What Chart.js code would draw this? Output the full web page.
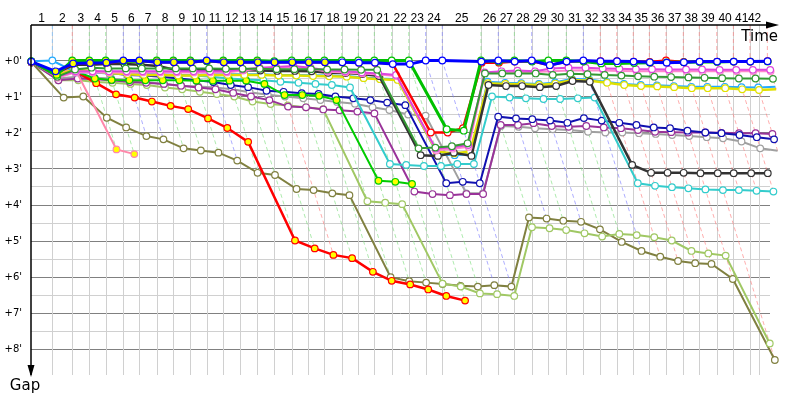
<!DOCTYPE html>
<html>
<head>
<meta charset="utf-8">
<script src="https://cdn.jsdelivr.net/npm/chart.js@4.4.1/dist/chart.umd.min.js"></script>
<style>
  html, body { margin: 0; padding: 0; background: #fff; }
  #wrap { width: 800px; height: 400px; }
</style>
</head>
<body>
<div id="wrap"><canvas id="gapChart"></canvas></div>
<script>
// leader time (minutes) when each lap ends, index = lap
const lapTimes = [0, 1.94, 3.75, 5.30, 6.79, 8.39, 9.85, 11.43, 12.94, 14.48, 15.97, 17.48, 19.00, 20.57,
  22.09, 23.70, 25.21, 26.67, 28.25, 29.75, 31.21, 32.79, 34.34, 35.88, 37.39, 40.91, 42.48, 43.94,
  45.52, 47.03, 48.66, 50.21, 51.75, 53.25, 54.75, 56.21, 57.73, 59.30, 60.75, 62.34, 63.85, 65.36, 66.94];
const gridEnd = 66.2;
const lapLabels = [];
for (let i = 1; i <= 42; i++) lapLabels.push(String(i));
// who led each lap (colour of the dashed lap line)
const lapLeader = ['lb', 'r', 'g', 'g', 'b', 'b', 'g', 'g', 'g', 'b', 'g', 'g', 'g', 'r',
  'g', 'g', 'g', 'g', 'g', 'g', 'g', 'g', 'b', 'b', 'g', 'b', 'g', 'b', 'g', 'g', 'b',
  'r', 'r', 'r', 'r', 'r', 'r', 'r', 'r', 'r', 'r', 'r'];
const gapTicks = ["+0'", "+1'", "+2'", "+3'", "+4'", "+5'", "+6'", "+7'", "+8'"];

// gap to leader (minutes) per lap, lap 0 = start
const olive = [0.05, 1.03, 1.0, 1.59, 1.86, 2.1, 2.19, 2.44, 2.5, 2.56, 2.78, 3.12, 3.18, 3.57, 3.6, 3.69, 3.74,
  6.02, 6.13, 6.17, 6.21, 6.26, 6.28, 6.24, 6.28, 4.36, 4.39, 4.45, 4.48, 4.69, 5.04, 5.29, 5.45, 5.57, 5.63, 5.65, 6.07, 8.32];
const lightOlive = [0.05, 0.55, 0.55, 0.6, 0.62, 0.65, 0.68, 0.75, 0.8, 0.87, 0.93, 1.0, 1.14, 1.21, 1.25, 1.3, 1.35,
  3.91, 3.95, 3.99, 6.2, 6.28, 6.47, 6.49, 6.54, 4.63, 4.66, 4.71, 4.8, 4.89, 4.82, 4.85, 4.91, 5.0, 5.29, 5.36, 5.42, 7.86];
const redRetired = [0.05, 0.4, 0.3, 0.63, 0.94, 1.03, 1.14, 1.26, 1.35, 1.61, 1.875, 2.26, 5.0, 5.22, 5.4, 5.49,
  5.87, 6.12, 6.22, 6.36, 6.54, 6.67];
const pinkRetired = [0.05, 0.35, 0.2, 2.47, 2.6];
const greenRetired = [0.05, 0.45, 0.3, 0.5, 0.54, 0.55, 0.55, 0.55, 0.55, 0.56, 0.56, 0.56, 0.56, 0.65, 0.96,
  0.96, 0.98, 1.1, 3.34, 3.37, 3.43];
const gray = [0.05, 0.5, 0.45, 0.48, 0.5, 0.55, 0.6, 0.65, 0.7, 0.72, 0.75, 0.8, 0.88, 0.95, 1.0, 1.05, 1.1, 1.15,
  1.2, 1.3, 1.375, 1.5, 1.53, 3.69, 3.69, 1.82, 1.84, 1.88, 1.91, 1.93, 1.98, 2.0, 2.0, 2.02, 2.04, 2.07, 2.1,
  2.13, 2.16, 2.25, 2.44, 2.51];
const purple = [0.05, 0.55, 0.5, 0.52, 0.55, 0.6, 0.62, 0.65, 0.7, 0.75, 0.8, 0.9, 1.0, 1.1, 1.28, 1.3, 1.36, 1.38,
  1.42, 1.47, 3.64, 3.71, 3.74, 3.71, 3.71, 1.79, 1.79, 1.74, 1.82, 1.84, 1.82, 1.86, 1.88, 1.93, 1.98, 1.99,
  2.0, 2.0, 2.01, 2.02, 2.02, 2.04];
const darkBlue = [0.05, 0.45, 0.3, 0.31, 0.35, 0.4, 0.42, 0.45, 0.5, 0.55, 0.6, 0.68, 0.74, 0.84, 0.87, 0.91, 0.93,
  1.0, 1.05, 1.1, 1.17, 1.24, 3.41, 3.37, 3.41, 1.56, 1.61, 1.63, 1.67, 1.73, 1.6, 1.67, 1.73, 1.79, 1.86, 1.88,
  1.95, 2.0, 2.02, 2.07, 2.13, 2.19];
const cyan = [0.04, 0.4, 0.3, 0.3, 0.33, 0.35, 0.35, 0.4, 0.42, 0.42, 0.45, 0.5, 0.53, 0.55, 0.59, 0.62, 0.65, 0.68,
  0.75, 2.875, 2.9, 2.93, 2.93, 2.875, 2.875, 1.0, 1.03, 1.05, 1.07, 1.07, 1.05, 1.03, 3.41, 3.48, 3.52, 3.55,
  3.58, 3.6, 3.6, 3.62, 3.64];
const black = [0.03, 0.35, 0.12, 0.12, 0.1, 0.1, 0.12, 0.15, 0.27, 0.27, 0.27, 0.27, 0.27, 0.28, 0.29, 0.29, 0.3,
  0.34, 0.35, 0.375, 0.43, 2.63, 2.65, 2.56, 2.65, 0.68, 0.71, 0.71, 0.74, 0.71, 0.57, 0.59, 2.9, 3.12, 3.12,
  3.12, 3.13, 3.13, 3.13, 3.13, 3.13];
const lightBlue = [0.02, 0, 0.33, 0.33, 0.36, 0.38, 0.38, 0.38, 0.4, 0.4, 0.38, 0.38, 0.38, 0.38, 0.4, 0.4, 0.41,
  0.42, 0.43, 0.47, 0.5, 0.52, 2.6, 2.63, 2.6, 0.59, 0.62, 0.63, 0.65, 0.61, 0.51, 0.53, 0.6, 0.65, 0.68, 0.69,
  0.71, 0.73, 0.73, 0.73, 0.74, 0.75, 0.73];
const yellow = [0.03, 0.4, 0.25, 0.3, 0.35, 0.38, 0.4, 0.4, 0.42, 0.42, 0.4, 0.4, 0.4, 0.4, 0.42, 0.42, 0.43, 0.44,
  0.45, 0.49, 0.52, 0.54, 2.53, 2.58, 2.53, 0.63, 0.65, 0.66, 0.68, 0.64, 0.54, 0.56, 0.62, 0.68, 0.71, 0.72,
  0.74, 0.77, 0.77, 0.77, 0.8, 0.82, 0.8];
const pink = [0.04, 0.48, 0.33, 0.33, 0.33, 0.33, 0.33, 0.33, 0.33, 0.33, 0.33, 0.33, 0.28, 0.23, 0.21, 0.18, 0.23,
  0.31, 0.33, 0.36, 0.39, 0.43, 2.5, 2.45, 2.4, 0.35, 0.33, 0.32, 0.32, 0.3, 0.28, 0.27, 0.28, 0.29, 0.3, 0.3,
  0.3, 0.3, 0.3, 0.3, 0.3, 0.3, 0.3];
const magenta = [0.04, 0.45, 0.3, 0.3, 0.3, 0.3, 0.3, 0.3, 0.3, 0.3, 0.3, 0.3, 0.25, 0.2, 0.18, 0.15, 0.2, 0.28,
  0.3, 0.33, 0.36, 0.4, 2.45, 2.41, 2.35, 0.33, 0.3, 0.28, 0.3, 0.22, 0.2, 0.2, 0.22, 0.23, 0.24, 0.24, 0.25,
  0.25, 0.25, 0.26, 0.26, 0.26, 0.26];
const darkGreen = [0.03, 0.45, 0.25, 0.2, 0.22, 0.22, 0.22, 0.22, 0.22, 0.22, 0.22, 0.23, 0.23, 0.23, 0.24, 0.24,
  0.24, 0.25, 0.25, 0.26, 0.26, 2.44, 2.42, 2.38, 2.3, 0.36, 0.36, 0.36, 0.36, 0.4, 0.37, 0.38, 0.4, 0.42, 0.44,
  0.45, 0.46, 0.47, 0.48, 0.49, 0.5, 0.5, 0.51];
const red = [0.03, 0.35, 0.08, 0.07, 0.06, 0.02, 0.02, 0.05, 0.05, 0.05, 0.02, 0.05, 0.05, 0.05, 0.05, 0.05, 0.05,
  0.05, 0.05, 0.06, 0.06, 0.08, 2.0, 2.0, 1.88, 0.06, 0.06, 0.03, 0.02, 0.13, 0.03, 0.02, 0.02, 0.02, 0.03, 0.04,
  0, 0.04, 0.03, 0.03, 0.03, 0.03, 0.02];
const green = [0.02, 0.4, 0, 0, 0, 0.02, 0.02, 0, 0, 0, 0.02, 0, 0, 0, 0.02, 0, 0, 0, 0, 0, 0, 0, 0, 1.91, 1.95,
  0, 0.03, 0, 0.03, 0, 0, 0.03, 0.08, 0.08, 0.07, 0.06, 0.05, 0.05, 0.04, 0.04, 0.03, 0.03, 0.03];
const blue = [0.03, 0.3, 0.08, 0.07, 0.06, 0, 0, 0.05, 0.05, 0.05, 0, 0.05, 0.05, 0.05, 0.05, 0.05, 0.05, 0.05,
  0.05, 0.06, 0.06, 0.1, 0.1, 0, 0, 0.03, 0, 0.03, 0, 0.13, 0.03, 0, 0.02, 0.02, 0.03, 0.05, 0.06, 0.05, 0.03,
  0.03, 0.03, 0.03, 0.02];

// drawing style per car: [gaps, line colour, width, yellow laps from..to]; later rows are drawn on top
const cars = [
  [olive, '#808040', 2, null],
  [lightOlive, '#a0c864', 2, null],
  [gray, '#a0a0a0', 2, null],
  [purple, '#993399', 2, null],
  [darkBlue, '#1010b0', 2, null],
  [cyan, '#33cccc', 2, null],
  [redRetired, '#ff0000', 2.5, [0, 99]],
  [pinkRetired, '#ff88aa', 2, [0, 99]],
  [greenRetired, '#00cc00', 2, [0, 99]],
  [lightBlue, '#22aaff', 2, null],
  [yellow, '#e0e000', 2.5, null],
  [black, '#333333', 2.5, null],
  [pink, '#ff88cc', 2, null],
  [magenta, '#dd44dd', 2, null],
  [darkGreen, '#339933', 2, null],
  [red, '#ff0000', 2.5, null],
  [green, '#00c000', 3, [1, 13]],
  [blue, '#0000ff', 3, [1, 17]]
];
const leaderColors = { g: 'rgba(120,220,120,0.6)', b: 'rgba(120,120,255,0.6)', r: 'rgba(255,120,120,0.6)', lb: 'rgba(120,190,255,0.7)' };

// Chart.js paints dataset 0 last, so feed the rows in reverse
const datasets = cars.slice().reverse().map(function(c) {
  const pts = [];
  const fills = [];
  c[0].forEach(function(g, lap) {
    if (g == null) return;
    pts.push({ x: lapTimes[lap] + g, y: g });
    fills.push(c[3] && lap >= c[3][0] && lap <= c[3][1] ? '#ffff00' : '#ffffff');
  });
  return {
    data: pts,
    borderColor: c[1],
    borderWidth: c[2],
    pointRadius: 3.3,
    pointBorderWidth: 1.2,
    pointBorderColor: c[1],
    pointBackgroundColor: fills,
    tension: 0,
    clip: false
  };
});

// max gap at each lap, for the dashed lap lines
function maxGap(lap) {
  let m = 0;
  cars.forEach(function(c) { if (c[0][lap] != null && c[0][lap] > m) m = c[0][lap]; });
  return m;
}

const gapDecor = {
  id: 'gapDecor',
  beforeDatasetsDraw(chart) {
    const ctx = chart.ctx, xs = chart.scales.x, ys = chart.scales.y, a = chart.chartArea;
    ctx.save();
    ctx.lineWidth = 1;
    // horizontal grid
    for (let v = 0; v <= 8; v += 0.5) {
      const y = Math.round(ys.getPixelForValue(v)) + 0.5;
      ctx.strokeStyle = (v % 1 === 0) ? '#808080' : '#d0d0d0';
      ctx.beginPath(); ctx.moveTo(a.left, y); ctx.lineTo(a.right, y); ctx.stroke();
    }
    // vertical lap grid
    ctx.strokeStyle = '#d0d0d0';
    const bounds = lapTimes.slice(1, 42).concat([gridEnd]);
    bounds.forEach(function(t) {
      const x = Math.round(xs.getPixelForValue(t)) + 0.5;
      ctx.beginPath(); ctx.moveTo(x, a.top); ctx.lineTo(x, a.bottom); ctx.stroke();
    });
    // dashed lap lines
    ctx.setLineDash([4, 3]);
    for (let lap = 1; lap <= 42; lap++) {
      const t = lapTimes[lap], m = maxGap(lap);
      ctx.strokeStyle = leaderColors[lapLeader[lap - 1]];
      ctx.beginPath();
      ctx.moveTo(xs.getPixelForValue(t), a.top);
      ctx.lineTo(xs.getPixelForValue(t), ys.getPixelForValue(0));
      ctx.lineTo(xs.getPixelForValue(t + m), ys.getPixelForValue(m));
      ctx.stroke();
    }
    ctx.restore();
  },
  afterDraw(chart) {
    const ctx = chart.ctx, xs = chart.scales.x, ys = chart.scales.y, a = chart.chartArea;
    ctx.save();
    ctx.strokeStyle = '#000'; ctx.fillStyle = '#000'; ctx.lineWidth = 1.5;
    // time axis with arrow
    ctx.beginPath(); ctx.moveTo(a.left, a.top); ctx.lineTo(a.right + 2, a.top); ctx.stroke();
    ctx.beginPath(); ctx.moveTo(a.right + 9, a.top); ctx.lineTo(a.right - 4, a.top - 3.5); ctx.lineTo(a.right - 4, a.top + 3.5); ctx.fill();
    // gap axis with arrow
    ctx.beginPath(); ctx.moveTo(a.left, a.top); ctx.lineTo(a.left, a.bottom); ctx.stroke();
    ctx.beginPath(); ctx.moveTo(a.left, a.bottom + 2); ctx.lineTo(a.left - 3.5, a.bottom - 10); ctx.lineTo(a.left + 3.5, a.bottom - 10); ctx.fill();
    // lap numbers centred in each lap
    ctx.font = '12px "Liberation Sans", Arial, sans-serif';
    ctx.textAlign = 'center'; ctx.textBaseline = 'alphabetic';
    const bounds = [0].concat(lapTimes.slice(1, 42), [gridEnd]);
    lapLabels.forEach(function(lbl, i) {
      const x = (xs.getPixelForValue(bounds[i]) + xs.getPixelForValue(bounds[i + 1])) / 2;
      ctx.fillText(lbl, x, 22);
    });
    // gap labels
    ctx.font = '10px "DejaVu Sans", sans-serif';
    ctx.textAlign = 'right'; ctx.textBaseline = 'middle';
    gapTicks.forEach(function(lbl, i) {
      ctx.fillText(lbl, a.left - 9, ys.getPixelForValue(i) + 1);
    });
    // axis titles
    ctx.font = '15px "DejaVu Sans", sans-serif';
    ctx.textAlign = 'right'; ctx.textBaseline = 'alphabetic';
    ctx.fillText('Time', a.right + 8, a.top + 16);
    ctx.textAlign = 'center';
    ctx.fillText('Gap', a.left - 6, a.bottom + 15);
    ctx.restore();
  }
};

new Chart(document.getElementById('gapChart'), {
  type: 'line',
  data: { datasets: datasets },
  options: {
    responsive: true,
    maintainAspectRatio: false,
    animation: false,
    layout: { padding: { left: 31, right: 30, top: 25, bottom: 25 } },
    plugins: { legend: { display: false }, tooltip: { enabled: false } },
    scales: {
      x: { type: 'linear', min: 0, max: 67.18, display: false },
      y: { type: 'linear', min: -0.986, max: 8.736, reverse: true, display: false }
    }
  },
  plugins: [gapDecor]
});
</script>
</body>
</html>
